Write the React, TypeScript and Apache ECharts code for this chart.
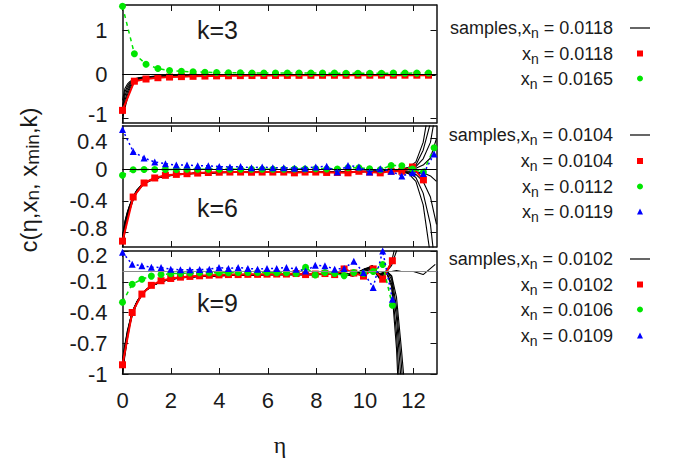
import React, { useEffect, useRef } from "react";
import * as echarts from "echarts";

const FONT = "Liberation Sans";
const TXT = "#1a1a1a";
const X_MAX = 12.95;
const ETA_TICKS = [0, 2, 4, 6, 8, 10, 12];
const Y1_TICKS = [-1, 0, 1];
const Y2_TICKS = [-0.8, -0.4, 0, 0.4];
const Y3_TICKS = [-1, -0.7, -0.4, -0.1, 0.2];

// ---------- panel 1 : k=3 ----------
const eta1 = [0, 0.49, 0.97, 1.46, 1.94, 2.43, 2.91, 3.4, 3.88, 4.37, 4.86, 5.34, 5.83, 6.31, 6.8, 7.28, 7.77, 8.25, 8.74, 9.22, 9.71, 10.2, 10.68, 11.17, 11.65, 12.14, 12.62];
const red1 = [-0.83, -0.16, -0.11, -0.08, -0.065, -0.055, -0.048, -0.042, -0.038, -0.035, -0.032, -0.03, -0.03, -0.028, -0.027, -0.026, -0.025, -0.025, -0.024, -0.024, -0.023, -0.023, -0.022, -0.022, -0.022, -0.022, -0.022];
const green1 = [1.56, 0.47, 0.23, 0.13, 0.085, 0.065, 0.055, 0.045, 0.04, 0.035, 0.035, 0.03, 0.03, 0.03, 0.028, 0.027, 0.026, 0.025, 0.025, 0.024, 0.024, 0.024, 0.024, 0.025, 0.025, 0.026, 0.027];
const sEta1 = [0, 0.1, 0.2, 0.3, 0.4, 0.5, 0.7, 1.0, 1.5, 2, 3, 4, 6, 8, 10, 12, 12.9];
const samples1 = [
  [-1.03, -0.78, -0.56, -0.39, -0.27, -0.19, -0.12, -0.08, -0.055, -0.044, -0.034, -0.03, -0.026, -0.024, -0.023, -0.022, -0.022],
  [-0.97, -0.69, -0.48, -0.33, -0.23, -0.165, -0.105, -0.072, -0.05, -0.041, -0.032, -0.028, -0.025, -0.023, -0.022, -0.021, -0.02],
  [-0.9, -0.6, -0.41, -0.28, -0.2, -0.145, -0.095, -0.068, -0.048, -0.039, -0.031, -0.027, -0.024, -0.022, -0.021, -0.02, -0.02],
  [-0.82, -0.5, -0.34, -0.24, -0.175, -0.13, -0.088, -0.064, -0.046, -0.038, -0.03, -0.026, -0.023, -0.021, -0.02, -0.02, -0.019],
  [-0.72, -0.41, -0.28, -0.2, -0.15, -0.115, -0.082, -0.06, -0.044, -0.036, -0.029, -0.025, -0.022, -0.02, -0.02, -0.019, -0.019],
  [-0.6, -0.33, -0.23, -0.17, -0.13, -0.105, -0.077, -0.057, -0.042, -0.035, -0.028, -0.024, -0.021, -0.02, -0.019, -0.019, -0.018],
];

// ---------- panel 2 : k=6 ----------
const eta2 = [0, 0.44, 0.89, 1.33, 1.77, 2.22, 2.66, 3.1, 3.54, 3.99, 4.43, 4.87, 5.32, 5.76, 6.2, 6.65, 7.09, 7.53, 7.97, 8.42, 8.86, 9.3, 9.75, 10.19, 10.63, 11.08, 11.52, 11.96, 12.41, 12.85];
const red2 = [-0.915, -0.35, -0.17, -0.106, -0.072, -0.06, -0.051, -0.043, -0.036, -0.032, -0.03, -0.03, -0.032, -0.03, -0.03, -0.03, -0.04, -0.03, -0.03, -0.035, -0.035, -0.04, -0.02, -0.03, -0.04, -0.02, -0.02, 0.035, -0.13];
const green2 = [-0.072, 0.0, 0.002, 0.003, 0.004, 0.004, 0.005, 0.005, 0.005, 0.006, 0.006, 0.006, 0.006, 0.006, 0.007, 0.007, 0.008, 0.01, 0.012, 0.01, 0.01, 0.025, 0.025, 0.012, 0.0, 0.055, 0.05, 0.01, -0.03, 0.28];
const blue2 = [0.515, 0.234, 0.15, 0.098, 0.077, 0.06, 0.06, 0.05, 0.05, 0.04, 0.035, 0.04, 0.025, 0.035, 0.025, 0.025, 0.02, 0.02, 0.035, 0.045, -0.03, 0.055, 0.034, -0.03, 0.013, -0.02, -0.08, -0.04, -0.05, 0.2];
const sEta2 = [0, 0.1, 0.2, 0.3, 0.45, 0.6, 0.8, 1.0, 1.3, 1.7, 2.2, 3, 4, 5, 6, 7, 8, 9, 10, 10.5, 11, 11.5, 11.8, 12.1, 12.4, 12.7, 12.95];
const samples2 = [
  [-0.99, -0.8, -0.64, -0.52, -0.38, -0.29, -0.21, -0.165, -0.12, -0.088, -0.066, -0.048, -0.038, -0.032, -0.03, -0.028, -0.03, -0.032, -0.025, -0.02, -0.015, 0.0, 0.01, 0.06, 0.25, 0.6, 1.2],
  [-0.97, -0.77, -0.61, -0.5, -0.37, -0.28, -0.205, -0.16, -0.118, -0.086, -0.064, -0.047, -0.037, -0.031, -0.029, -0.027, -0.029, -0.03, -0.024, -0.02, -0.012, 0.005, 0.02, 0.04, 0.14, 0.35, 0.8],
  [-0.95, -0.75, -0.6, -0.49, -0.36, -0.275, -0.2, -0.158, -0.116, -0.085, -0.063, -0.046, -0.036, -0.031, -0.028, -0.027, -0.028, -0.03, -0.023, -0.018, -0.012, 0.0, 0.0, 0.02, 0.06, 0.15, 0.4],
  [-0.93, -0.73, -0.58, -0.48, -0.355, -0.27, -0.198, -0.156, -0.115, -0.084, -0.062, -0.046, -0.036, -0.03, -0.028, -0.026, -0.028, -0.03, -0.022, -0.02, -0.015, -0.01, -0.02, -0.03, -0.04, -0.08, -0.15],
  [-0.91, -0.71, -0.57, -0.47, -0.35, -0.265, -0.196, -0.155, -0.114, -0.083, -0.062, -0.045, -0.035, -0.03, -0.028, -0.026, -0.028, -0.03, -0.022, -0.02, -0.018, -0.02, -0.03, -0.06, -0.15, -0.35, -0.7],
  [-0.89, -0.69, -0.56, -0.46, -0.345, -0.262, -0.194, -0.154, -0.113, -0.083, -0.061, -0.045, -0.035, -0.03, -0.027, -0.026, -0.027, -0.029, -0.021, -0.018, -0.015, -0.02, -0.04, -0.1, -0.3, -0.7, -1.4],
  [-0.87, -0.67, -0.55, -0.455, -0.34, -0.26, -0.193, -0.153, -0.112, -0.082, -0.061, -0.045, -0.035, -0.03, -0.027, -0.025, -0.027, -0.029, -0.021, -0.018, -0.014, -0.025, -0.05, -0.15, -0.45, -1.1, -2.2],
  [-0.85, -0.66, -0.54, -0.45, -0.335, -0.258, -0.192, -0.152, -0.111, -0.082, -0.06, -0.044, -0.034, -0.029, -0.027, -0.025, -0.027, -0.028, -0.02, -0.016, -0.01, 0.01, 0.03, 0.1, 0.35, 0.9, 1.8],
];

// ---------- panel 3 : k=9 ----------
const eta3 = [0, 0.4, 0.8, 1.19, 1.59, 1.99, 2.39, 2.78, 3.18, 3.58, 3.98, 4.37, 4.77, 5.17, 5.57, 5.96, 6.36, 6.76, 7.16, 7.55, 7.95, 8.35, 8.75, 9.14, 9.54, 9.94, 10.34, 10.73, 11.13];
const red3 = [-0.91, -0.4, -0.22, -0.135, -0.09, -0.068, -0.055, -0.048, -0.042, -0.036, -0.033, -0.03, -0.03, -0.028, -0.028, -0.026, -0.025, -0.025, -0.02, -0.03, -0.025, -0.02, -0.03, 0.025, -0.015, -0.045, 0.025, -0.075, 0.105];
const green3 = [-0.3, -0.125, -0.075, -0.045, -0.03, -0.022, -0.018, -0.015, -0.013, -0.012, -0.012, -0.011, -0.01, -0.01, -0.01, -0.01, -0.012, -0.012, -0.02, 0.04, -0.035, -0.01, -0.02, -0.04, -0.01, -0.02, 0.0, 0.068, -0.33];
const blue3 = [0.187, 0.07, 0.055, 0.042, 0.039, 0.023, 0.016, 0.016, 0.019, 0.023, 0.039, 0.03, 0.039, 0.03, 0.023, 0.03, 0.03, 0.039, 0.023, 0.006, 0.06, 0.055, 0.023, 0.03, 0.1, -0.01, -0.155, 0.2, -0.27];
const sEta3 = [0, 0.1, 0.2, 0.3, 0.4, 0.6, 0.8, 1.0, 1.3, 1.6, 2.0, 2.5, 3, 4, 5, 6, 7, 8, 9, 9.5, 10, 10.3, 10.6, 10.9, 11.1, 11.3, 11.5, 11.7, 12, 12.4, 12.9];
const samples3 = [
  [-1.0, -0.82, -0.66, -0.53, -0.43, -0.31, -0.23, -0.18, -0.132, -0.1, -0.076, -0.06, -0.051, -0.041, -0.035, -0.031, -0.029, -0.03, -0.02, -0.04, 0.02, 0.05, -0.04, 0.0, -0.05, -0.35, -0.9, -1.6],
  [-0.98, -0.8, -0.64, -0.52, -0.42, -0.305, -0.228, -0.178, -0.131, -0.099, -0.075, -0.06, -0.05, -0.04, -0.035, -0.03, -0.028, -0.028, -0.015, -0.035, 0.03, 0.04, -0.05, 0.01, -0.08, -0.45, -1.1],
  [-0.96, -0.78, -0.63, -0.51, -0.415, -0.3, -0.226, -0.176, -0.13, -0.098, -0.074, -0.059, -0.05, -0.04, -0.034, -0.03, -0.028, -0.032, -0.025, -0.03, 0.01, 0.06, -0.06, -0.01, -0.12, -0.6, -1.4],
  [-0.94, -0.77, -0.62, -0.505, -0.41, -0.298, -0.224, -0.175, -0.129, -0.097, -0.074, -0.059, -0.05, -0.04, -0.034, -0.03, -0.028, -0.03, -0.02, -0.045, 0.0, 0.03, -0.07, -0.02, -0.15, -0.75, -1.8],
  [-0.92, -0.75, -0.61, -0.5, -0.405, -0.296, -0.222, -0.174, -0.128, -0.096, -0.073, -0.058, -0.049, -0.039, -0.033, -0.03, -0.027, -0.029, -0.018, -0.03, 0.025, 0.055, -0.03, 0.0, -0.04, -0.25, -0.75, -1.3],
  [-0.9, -0.74, -0.6, -0.495, -0.4, -0.294, -0.221, -0.173, -0.127, -0.096, -0.073, -0.058, -0.049, -0.039, -0.033, -0.029, -0.027, -0.028, -0.022, -0.035, 0.015, 0.045, -0.045, 0.01, 0.1, 0.3],
  [-0.88, -0.72, -0.59, -0.49, -0.395, -0.292, -0.22, -0.172, -0.127, -0.095, -0.072, -0.057, -0.048, -0.038, -0.033, -0.029, -0.027, -0.027, -0.02, -0.03, 0.02, 0.035, -0.035, 0.0, 0.06, 0.2, 0.45],
  [-0.86, -0.71, -0.58, -0.485, -0.39, -0.29, -0.218, -0.171, -0.126, -0.094, -0.072, -0.057, -0.048, -0.038, -0.032, -0.029, -0.027, -0.026, -0.018, -0.025, 0.01, 0.02, -0.02, 0.0, 0.0, 0.01, 0.0, 0.0, 0.0, -0.03, 0.07],
];

const SAMPLE_NAMES = ["samples,x_n = 0.0118", "samples,x_n = 0.0104", "samples,x_n = 0.0102"];
const RED_NAMES = ["x_n = 0.0118", "x_n = 0.0104", "x_n = 0.0102"];
const GREEN_NAMES = ["x_n = 0.0165", "x_n = 0.0112", "x_n = 0.0106"];
const BLUE_NAMES = ["", "x_n = 0.0119", "x_n = 0.0109"];
const K_LABELS = ["k=3", "k=6", "k=9"];

const RED = "#ff0000";
const GREEN = "#00e600";
const BLUE = "#0000ff";

const GRIDS = [
  { top: 5, height: 118 },
  { top: 126, height: 121 },
  { top: 251, height: 123 },
];
// shift (px, + = down) applied to the y-tick labels that sit at the joints of panels
const Y_RANGES = [
  { min: -1.12, max: 1.59, ticks: Y1_TICKS, lowShift: -3, highShift: 0 },
  { min: -0.99, max: 0.56, ticks: Y2_TICKS, lowShift: -4, highShift: 3 },
  { min: -1.0, max: 0.2, ticks: Y3_TICKS, lowShift: 0, highShift: 4 },
];

function pairs(xs: number[], ys: number[]) {
  return ys.map((y, i) => [xs[i], y]);
}

function buildOption() {
  const grid = GRIDS.map((g) => ({ left: 122.5, right: 236.5, top: g.top, height: g.height, containLabel: false }));
  const axisLine = { show: true, onZero: false, lineStyle: { color: "#111", width: 1.5 } };
  const tickStyle = { color: "#111", width: 1 };
  const xAxis: any[] = [];
  const yAxis: any[] = [];
  for (let p = 0; p < 3; p++) {
    xAxis.push({
      type: "value", gridIndex: p, position: "bottom", min: 0, max: X_MAX,
      axisLine, splitLine: { show: false },
      axisTick: { show: true, inside: true, length: 6, customValues: ETA_TICKS, lineStyle: tickStyle },
      axisLabel: { show: p === 2, customValues: ETA_TICKS, fontSize: 22, fontFamily: FONT, color: TXT, margin: 15 },
    });
  }
  for (let p = 0; p < 3; p++) {
    xAxis.push({
      type: "value", gridIndex: p, position: "top", min: 0, max: X_MAX,
      axisLine, splitLine: { show: false },
      axisTick: { show: true, inside: true, length: 6, customValues: ETA_TICKS, lineStyle: tickStyle },
      axisLabel: { show: false },
    });
  }
  for (let p = 0; p < 3; p++) {
    const r = Y_RANGES[p];
    const lo = r.ticks[0];
    const hi = r.ticks[r.ticks.length - 1];
    const shiftStyle = (d: number) => ({
      fontSize: 22, fontFamily: FONT, color: TXT,
      padding: d < 0 ? [0, 0, -2 * d, 0] : [2 * d, 0, 0, 0],
    });
    yAxis.push({
      type: "value", gridIndex: p, position: "left", min: r.min, max: r.max,
      axisLine, splitLine: { show: false },
      axisTick: { show: true, inside: true, length: 6, customValues: r.ticks, lineStyle: tickStyle },
      axisLabel: {
        show: true, customValues: r.ticks, fontSize: 22, fontFamily: FONT, color: TXT, margin: 15,
        formatter: (v: number) => {
          const t = String(Math.round(v * 10) / 10);
          if (Math.abs(v - lo) < 1e-9 && r.lowShift) return "{lo|" + t + "}";
          if (Math.abs(v - hi) < 1e-9 && r.highShift) return "{hi|" + t + "}";
          return t;
        },
        rich: { lo: shiftStyle(r.lowShift), hi: shiftStyle(r.highShift) },
      },
    });
  }
  for (let p = 0; p < 3; p++) {
    const r = Y_RANGES[p];
    yAxis.push({
      type: "value", gridIndex: p, position: "right", min: r.min, max: r.max,
      axisLine, splitLine: { show: false },
      axisTick: { show: true, inside: true, length: 6, customValues: r.ticks, lineStyle: tickStyle },
      axisLabel: { show: false },
    });
  }

  const series: any[] = [];
  const sampleSets = [
    { xs: sEta1, rows: samples1 },
    { xs: sEta2, rows: samples2 },
    { xs: sEta3, rows: samples3 },
  ];
  const points = [
    { xs: eta1, red: red1, green: green1, blue: null as number[] | null },
    { xs: eta2, red: red2, green: green2, blue: blue2 },
    { xs: eta3, red: red3, green: green3, blue: blue3 },
  ];
  for (let p = 0; p < 3; p++) {
    const s = sampleSets[p];
    s.rows.forEach((row, j) => {
      const ser: any = {
        type: "line", name: SAMPLE_NAMES[p], xAxisIndex: p, yAxisIndex: p,
        data: pairs(s.xs, row), symbol: "none", showSymbol: false,
        lineStyle: { color: "#000", width: 1.1 }, itemStyle: { color: "#000" },
        z: 2, clip: true, silent: true,
      };
      if (j === 0) {
        ser.markLine = {
          silent: true, symbol: ["none", "none"], label: { show: false },
          lineStyle: { color: p === 2 ? "#8a8a8a" : "#000", width: 1, type: "solid" },
          data: [{ yAxis: 0 }],
        };
      }
      series.push(ser);
    });
    const pt = points[p];
    series.push({
      type: "line", name: RED_NAMES[p], xAxisIndex: p, yAxisIndex: p,
      data: pairs(pt.xs, pt.red), symbol: "rect", symbolSize: 7,
      lineStyle: { color: RED, width: 2 }, itemStyle: { color: RED }, z: 3, clip: true,
    });
    series.push({
      type: "line", name: GREEN_NAMES[p], xAxisIndex: p, yAxisIndex: p,
      data: pairs(pt.xs, pt.green), symbol: "circle", symbolSize: 7,
      lineStyle: { color: GREEN, width: 1.5, type: [4, 4] }, itemStyle: { color: GREEN }, z: 4, clip: true,
    });
    if (pt.blue) {
      series.push({
        type: "line", name: BLUE_NAMES[p], xAxisIndex: p, yAxisIndex: p,
        data: pairs(pt.xs, pt.blue), symbol: "triangle", symbolSize: 7,
        lineStyle: { color: BLUE, width: 1.5, type: [2, 3] }, itemStyle: { color: BLUE }, z: 5, clip: true,
      });
    }
  }

  // legends: one component per row, right-aligned text, icon at the right
  const rows = [
    { name: SAMPLE_NAMES[0], yc: 31, kind: "line" },
    { name: RED_NAMES[0], yc: 56.5, kind: "rect" },
    { name: GREEN_NAMES[0], yc: 81.5, kind: "circle" },
    { name: SAMPLE_NAMES[1], yc: 138, kind: "line" },
    { name: RED_NAMES[1], yc: 164, kind: "rect" },
    { name: GREEN_NAMES[1], yc: 189.5, kind: "circle" },
    { name: BLUE_NAMES[1], yc: 214.5, kind: "triangle" },
    { name: SAMPLE_NAMES[2], yc: 262, kind: "line" },
    { name: RED_NAMES[2], yc: 287.5, kind: "rect" },
    { name: GREEN_NAMES[2], yc: 312.5, kind: "circle" },
    { name: BLUE_NAMES[2], yc: 338.5, kind: "triangle" },
  ];
  const legend = rows.map((r) => {
    const isLine = r.kind === "line";
    const gap = isLine ? 12 : 19;
    return {
      show: true, orient: "horizontal", align: "right", padding: 0, itemGap: 0,
      right: isLine ? 23 : 30, top: r.yc - 12,
      itemWidth: isLine ? 20 : 6, itemHeight: isLine ? 1.2 : 6,
      selectedMode: false,
      data: [{ name: r.name, icon: isLine ? "rect" : r.kind }],
      formatter: (name: string) => name.replace("x_n", "x{s|n}") + "{g| }",
      textStyle: {
        fontSize: 18, fontFamily: FONT, color: TXT,
        rich: {
          s: { fontSize: 14, fontFamily: FONT, color: TXT, padding: [10, 0, 0, 0] },
          g: { fontSize: 18, fontFamily: FONT, width: gap },
        },
      },
    };
  });

  const graphic: any[] = [
    ...K_LABELS.map((t, i) => ({
      type: "text", x: 197, y: [30, 208, 303][i], silent: true,
      style: { text: t, fontSize: 25, fontFamily: FONT, fill: TXT, align: "left", verticalAlign: "middle" },
    })),
    {
      type: "text", x: 280, y: 445, silent: true,
      style: { text: "η", fontSize: 24, fontFamily: "Liberation Serif", fill: TXT, align: "center", verticalAlign: "middle" },
    },
    {
      type: "text", x: 28, y: 180, rotation: Math.PI / 2, silent: true,
      style: {
        text: "c(η,x{s|n}, x{s|min},k)", fontSize: 24, fontFamily: FONT, fill: TXT,
        align: "center", verticalAlign: "middle",
        rich: { s: { fontSize: 19, fontFamily: FONT, fill: TXT, padding: [9, 0, 0, 0] } },
      },
    },
  ];

  return {
    animation: false,
    backgroundColor: "#ffffff",
    grid, xAxis, yAxis, series, legend, graphic,
  };
}

export default function App() {
  const ref = useRef<HTMLDivElement>(null);
  useEffect(() => {
    if (!ref.current) return;
    const chart = echarts.init(ref.current, undefined, { renderer: "svg" });
    chart.setOption(buildOption() as any);
    return () => chart.dispose();
  }, []);
  return (
    <div
      ref={ref}
      style={{ position: "fixed", left: 0, top: 0, width: 673, height: 458, background: "#fff" }}
    />
  );
}
